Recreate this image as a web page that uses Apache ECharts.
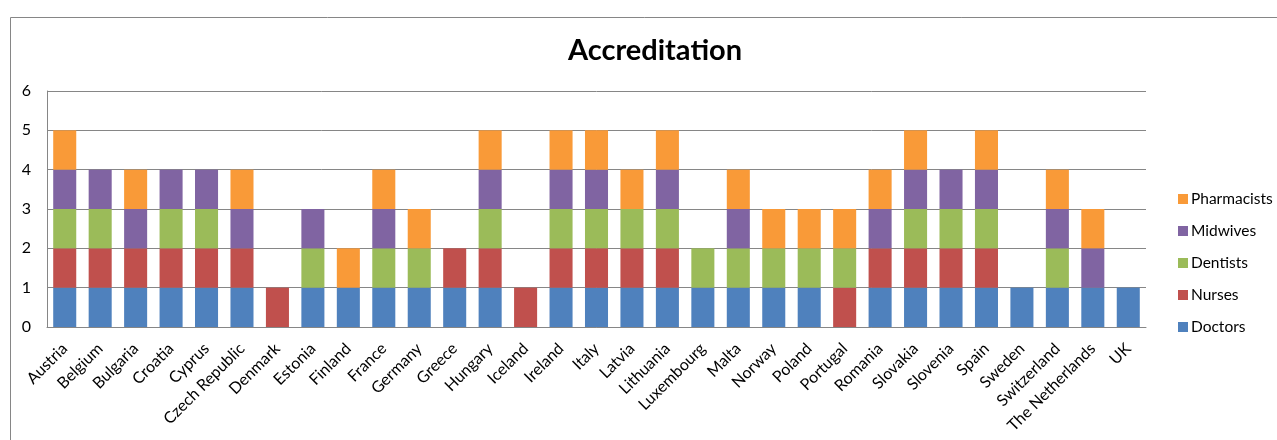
<!DOCTYPE html>
<html>
<head>
<meta charset="utf-8">
<script src="https://cdn.jsdelivr.net/npm/echarts@6/dist/echarts.min.js"></script>
<style>
html,body{margin:0;padding:0;background:#fff;}
#chart{width:1277px;height:440px;}
</style>
</head>
<body>
<div id="chart"></div>
<script>
const categories = ["Austria","Belgium","Bulgaria","Croatia","Cyprus","Czech Republic","Denmark","Estonia","Finland","France","Germany","Greece","Hungary","Iceland","Ireland","Italy","Latvia","Lithuania","Luxembourg","Malta","Norway","Poland","Portugal","Romania","Slovakia","Slovenia","Spain","Sweden","Switzerland","The Netherlands","UK"];
const doctors     = [1,1,1,1,1,1,0,1,1,1,1,1,1,0,1,1,1,1,1,1,1,1,0,1,1,1,1,1,1,1,1];
const nurses      = [1,1,1,1,1,1,1,0,0,0,0,1,1,1,1,1,1,1,0,0,0,0,1,1,1,1,1,0,0,0,0];
const dentists    = [1,1,0,1,1,0,0,1,0,1,1,0,1,0,1,1,1,1,1,1,1,1,1,0,1,1,1,0,1,0,0];
const midwives    = [1,1,1,1,1,1,0,1,0,1,0,0,1,0,1,1,0,1,0,1,0,0,0,1,1,1,1,0,1,1,0];
const pharmacists = [1,0,1,0,0,1,0,0,1,1,1,0,1,0,1,1,1,1,0,1,1,1,1,1,1,0,1,0,1,1,0];
const yTicks = [0,1,2,3,4,5,6];

const seriesDefs = [
  {name:"Doctors", data:doctors, color:"#4F81BD"},
  {name:"Nurses", data:nurses, color:"#C0504D"},
  {name:"Dentists", data:dentists, color:"#9BBB59"},
  {name:"Midwives", data:midwives, color:"#8064A2"},
  {name:"Pharmacists", data:pharmacists, color:"#F99A38"}
];

const chart = echarts.init(document.getElementById('chart'), null, {renderer:'canvas'});
const font = "Lato, 'Open Sans', sans-serif";
chart.setOption({
  animation:false,
  textStyle:{fontFamily:font},
  title:{
    text:"Accreditation",
    left:650, top:31, textAlign:'center',
    textStyle:{fontFamily:font,fontWeight:'bold',fontSize:29,color:'#000'}
  },
  graphic:[{
    type:'rect', silent:true,
    shape:{x:10.5,y:17.5,width:1400,height:600},
    style:{fill:null,stroke:'#868686',lineWidth:1}
  }],
  legend:{
    orient:'vertical',
    left:1173, top:186,
    itemWidth:10, itemHeight:10, itemGap:16,
    icon:'rect',
    data:["Pharmacists","Midwives","Dentists","Nurses","Doctors"],
    textStyle:{fontFamily:font,fontSize:15.5,color:'#000',padding:[0,0,0,-2]}
  },
  grid:{left:47,right:131,top:91,bottom:113,containLabel:false},
  xAxis:{
    type:'category',
    data:categories,
    axisLine:{lineStyle:{color:'#868686'}},
    axisTick:{show:false},
    axisLabel:{rotate:45,interval:0,fontSize:16,color:'#000',fontFamily:font,margin:19}
  },
  yAxis:{
    type:'value',
    min:yTicks[0], max:yTicks[yTicks.length-1], interval:1,
    axisLine:{show:true,lineStyle:{color:'#868686'}},
    axisTick:{show:false},
    splitLine:{lineStyle:{color:'#868686'}},
    axisLabel:{fontSize:16,color:'#000',fontFamily:font,margin:16}
  },
  series:seriesDefs.map(s=>({
    name:s.name, type:'bar', stack:'total', data:s.data,
    barWidth:'65%',
    itemStyle:{color:s.color},
  }))
});
</script>
</body>
</html>
